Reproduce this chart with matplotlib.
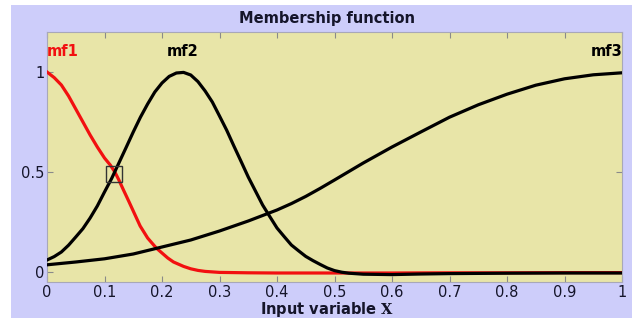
import matplotlib
matplotlib.use("Agg")
import matplotlib.pyplot as plt
from matplotlib.patches import Rectangle

# values
x_mf1 = [0.0, 0.0125, 0.025, 0.0375, 0.05, 0.0625, 0.075, 0.0875, 0.1, 0.11,
         0.118, 0.125, 0.133, 0.142, 0.15, 0.162, 0.175, 0.19, 0.2, 0.21,
         0.22, 0.2375, 0.25, 0.2625, 0.275, 0.3, 0.35, 0.4, 0.5, 0.6, 0.7,
         0.8, 0.9, 1.0]
y_mf1 = [1.0, 0.972, 0.935, 0.88, 0.815, 0.75, 0.685, 0.625, 0.57, 0.535,
         0.5, 0.46, 0.41, 0.355, 0.305, 0.23, 0.17, 0.12, 0.095, 0.07,
         0.05, 0.028, 0.016, 0.008, 0.003, -0.002, -0.004, -0.005, -0.005,
         -0.005, -0.004, -0.004, -0.003, -0.003]

x_mf2 = [0.0, 0.0125, 0.025, 0.0375, 0.05, 0.0625, 0.075, 0.0875, 0.1,
         0.1125, 0.125, 0.1375, 0.15, 0.1625, 0.175, 0.1875, 0.2, 0.2125,
         0.225, 0.2375, 0.25, 0.2625, 0.275, 0.2875, 0.3, 0.3125, 0.325,
         0.3375, 0.35, 0.3625, 0.375, 0.3875, 0.4, 0.4125, 0.425, 0.4375,
         0.45, 0.4625, 0.475, 0.4875, 0.5, 0.5125, 0.525, 0.55, 0.6, 0.65,
         0.7, 0.8, 0.9, 1.0]
y_mf2 = [0.06, 0.077, 0.10, 0.134, 0.175, 0.217, 0.27, 0.33, 0.40,
         0.468, 0.545, 0.622, 0.70, 0.774, 0.84, 0.90, 0.945, 0.978,
         0.995, 0.998, 0.985, 0.952, 0.905, 0.85, 0.78, 0.709, 0.63,
         0.553, 0.475, 0.405, 0.335, 0.277, 0.22, 0.177, 0.135, 0.106,
         0.078, 0.057, 0.038, 0.02, 0.007, -0.001, -0.006, -0.011, -0.013,
         -0.01, -0.008, -0.006, -0.005, -0.005]

x_mf3 = [0.0, 0.05, 0.1, 0.15, 0.2, 0.25, 0.3, 0.35, 0.4, 0.425, 0.45,
         0.475, 0.5, 0.55, 0.6, 0.65, 0.7, 0.75, 0.8, 0.85, 0.9, 0.95, 1.0]
y_mf3 = [0.036, 0.05, 0.066, 0.09, 0.125, 0.16, 0.205, 0.255, 0.31, 0.342,
         0.378, 0.418, 0.46, 0.545, 0.625, 0.70, 0.774, 0.836, 0.889, 0.934,
         0.966, 0.986, 0.996]

mf_labels = ["mf1", "mf2", "mf3"]
label_x = [0.0, 0.235, 1.0]
marker_xy = (0.116, 0.49)

x_ticks = [0, 0.1, 0.2, 0.3, 0.4, 0.5, 0.6, 0.7, 0.8, 0.9, 1]
x_ticklabels = ["0", "0.1", "0.2", "0.3", "0.4", "0.5", "0.6", "0.7", "0.8", "0.9", "1"]
y_ticks = [0, 0.5, 1]
y_ticklabels = ["0", "0.5", "1"]

plt.rcParams["font.family"] = ["DejaVu Sans"]
plt.rcParams["mathtext.fontset"] = "dejavuserif"

fig = plt.figure(figsize=(6.34, 3.2), dpi=100)
fig.patch.set_facecolor("white")
fig.patches.append(Rectangle((11 / 634, 2 / 320), 621 / 634, 313 / 320,
                             transform=fig.transFigure, facecolor="#cdcdfa",
                             edgecolor="none", zorder=-1))

ax = fig.add_axes([47 / 634, 38 / 320, 575 / 634, 250 / 320])
ax.set_zorder(1)
ax.set_facecolor("#e8e5a8")

ax.plot(x_mf1, y_mf1, color="#f21010", lw=2.3, zorder=3,
        solid_joinstyle="round")
ax.plot(x_mf2, y_mf2, color="black", lw=2.3, zorder=4,
        solid_joinstyle="round")
ax.plot(x_mf3, y_mf3, color="black", lw=2.3, zorder=4,
        solid_joinstyle="round")
ax.plot([marker_xy[0]], [marker_xy[1]], marker="s", markersize=12,
        mfc="none", mec="#333333", mew=1.0, zorder=5)

label_colors = ["#f21010", "black", "black"]
label_ha = ["left", "center", "right"]
for name, lx, c, ha in zip(mf_labels, label_x, label_colors, label_ha):
    ax.text(lx, 1.10, name, color=c, ha=ha, va="center",
            fontsize=10.5, fontweight="bold")

ax.set_xlim(0, 1)
ax.set_ylim(-0.05, 1.2)
ax.set_xticks(x_ticks)
ax.set_xticklabels(x_ticklabels)
ax.set_yticks(y_ticks)
ax.set_yticklabels(y_ticklabels)
ax.tick_params(direction="in", length=4, width=0.8, color="#8a8a8a",
               top=True, right=True, labelsize=10.5, labelcolor="#15152a", pad=2)
for s in ax.spines.values():
    s.set_color("#a8a8b8")
    s.set_linewidth(0.8)

ax.text(0.487, 1.056, "Membership function", transform=ax.transAxes,
        ha="center", va="center", fontsize=10.5, fontweight="bold",
        color="#15152a")
ax.set_xlabel(r"Input variable $\mathbf{X}$", fontsize=10.5,
              fontweight="bold", color="#15152a")
ax.xaxis.set_label_coords(0.487, -0.072)

fig.savefig("out.png", dpi=100)
